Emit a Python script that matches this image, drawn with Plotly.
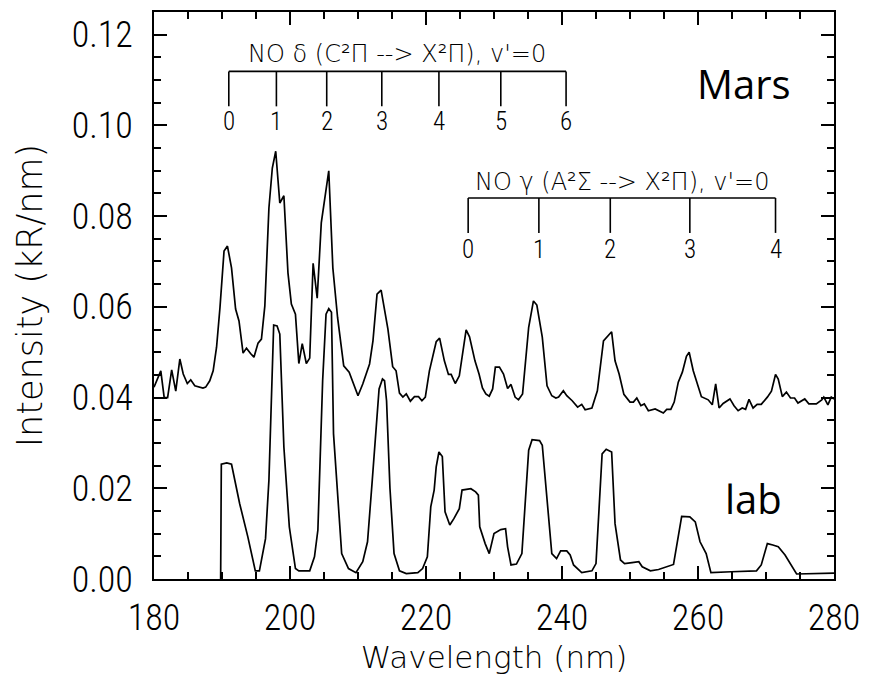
import plotly.graph_objects as go

# ---------------- data ----------------
mars_wl = [180.0, 181.0, 181.5, 182.0, 182.6, 183.2, 183.8, 184.3, 184.9, 185.4, 186.0, 186.6, 187.2, 187.6,
           188.2, 188.7, 189.2, 189.7, 190.3, 190.8, 191.4, 192.0, 192.5, 193.1, 193.6, 194.2, 194.7, 195.3,
           195.8, 196.3, 196.9, 197.4, 197.9, 198.5, 199.1, 199.7, 200.2, 200.8, 201.3, 201.8, 202.4, 202.9,
           203.4, 204.0, 204.6, 205.7, 206.3, 207.0, 207.9, 208.7, 210.0, 210.7, 211.7, 212.2, 212.8, 213.4,
           214.4, 215.1, 215.6, 216.1, 216.6, 217.1, 217.7, 218.3, 218.9, 219.4, 219.9, 220.5, 221.5, 222.0,
           222.7, 223.3, 223.7, 224.3, 224.9, 225.9, 226.4, 227.2, 227.8, 228.3, 228.8, 229.3, 229.8, 230.2,
           230.8, 231.4, 232.0, 232.5, 233.1, 233.6, 234.2, 235.1, 235.8, 236.3, 237.1, 237.8, 238.5, 239.1,
           239.5, 240.2, 240.7, 241.5, 242.3, 242.9, 243.4, 244.4, 245.2, 246.1, 247.3, 247.8, 248.4, 249.1,
           250.0, 250.5, 251.0, 251.6, 252.1, 252.7, 253.7, 254.9, 255.4, 256.0, 256.5, 257.1, 257.7, 258.3,
           258.7, 259.3, 260.5, 261.5, 262.1, 262.6, 263.1, 263.7, 264.7, 265.3, 265.9, 266.5, 267.0, 267.5,
           268.1, 268.7, 269.3, 270.2, 270.8, 271.4, 271.8, 272.4, 273.0, 273.6, 274.2, 274.7, 275.7, 276.3,
           277.4, 278.2, 278.5, 279.1, 279.6, 280.0]
mars_int = [0.0423, 0.0459, 0.0400, 0.0400, 0.0461, 0.0414, 0.0485, 0.0452, 0.0431, 0.0439, 0.0426, 0.0424, 0.0421, 0.0423,
            0.0437, 0.0459, 0.0511, 0.0598, 0.0723, 0.0734, 0.0686, 0.0595, 0.0569, 0.0498, 0.0509, 0.0497, 0.0489, 0.0520,
            0.0529, 0.0602, 0.0818, 0.0906, 0.0943, 0.0829, 0.0845, 0.0675, 0.0606, 0.0584, 0.0475, 0.0519, 0.0475, 0.0487,
            0.0696, 0.0619, 0.0785, 0.0900, 0.0686, 0.0576, 0.0470, 0.0456, 0.0404, 0.0430, 0.0474, 0.0525, 0.0628, 0.0637,
            0.0551, 0.0468, 0.0459, 0.0410, 0.0401, 0.0408, 0.0392, 0.0402, 0.0402, 0.0393, 0.0401, 0.0459, 0.0523, 0.0531,
            0.0481, 0.0451, 0.0451, 0.0431, 0.0448, 0.0549, 0.0534, 0.0481, 0.0452, 0.0421, 0.0408, 0.0403, 0.0419, 0.0467,
            0.0467, 0.0452, 0.0420, 0.0429, 0.0401, 0.0395, 0.0408, 0.0555, 0.0613, 0.0604, 0.0533, 0.0426, 0.0404, 0.0399,
            0.0401, 0.0415, 0.0404, 0.0393, 0.0379, 0.0385, 0.0373, 0.0377, 0.0415, 0.0525, 0.0545, 0.0481, 0.0452, 0.0407,
            0.0390, 0.0390, 0.0399, 0.0382, 0.0386, 0.0371, 0.0375, 0.0366, 0.0374, 0.0374, 0.0390, 0.0434, 0.0456, 0.0491,
            0.0500, 0.0459, 0.0402, 0.0395, 0.0384, 0.0430, 0.0377, 0.0387, 0.0397, 0.0382, 0.0371, 0.0377, 0.0374, 0.0396,
            0.0377, 0.0385, 0.0385, 0.0401, 0.0414, 0.0451, 0.0441, 0.0402, 0.0412, 0.0399, 0.0399, 0.0388, 0.0397, 0.0386,
            0.0386, 0.0395, 0.0401, 0.0384, 0.0401, 0.0397]

lab_wl = [189.8, 189.9, 190.7, 191.4, 192.6, 193.8, 194.9, 195.5, 196.4, 196.9, 197.6, 198.1, 198.5, 199.1,
          199.9, 200.8, 201.3, 202.9, 203.6, 204.1, 204.8, 205.3, 205.7, 206.1, 206.4, 207.6, 208.6, 209.7,
          210.7, 211.4, 212.1, 213.1, 213.6, 213.9, 214.2, 214.7, 215.3, 216.1, 217.1, 218.8, 219.5, 220.2,
          220.7, 221.2, 221.5, 221.9, 222.4, 222.8, 223.5, 224.1, 224.9, 225.3, 226.6, 227.3, 227.7, 227.9,
          228.7, 229.3, 230.0, 231.0, 231.7, 232.0, 232.5, 233.3, 234.1, 235.1, 235.6, 236.7, 237.1, 237.8,
          238.5, 239.2, 239.8, 240.7, 241.2, 241.7, 242.9, 244.4, 245.0, 245.9, 246.5, 247.3, 247.8, 248.6,
          249.2, 250.3, 251.3, 251.8, 253.0, 254.2, 256.4, 257.6, 258.8, 259.6, 260.3, 261.2, 261.9, 264.9,
          268.6, 269.3, 270.2, 271.0, 271.8, 272.8, 273.7, 274.5, 280.0]
lab_int = [0.0, 0.0253, 0.0256, 0.0253, 0.0166, 0.0093, 0.0018, 0.0018, 0.0089, 0.0218, 0.0560, 0.0558, 0.0540, 0.0291,
           0.0115, 0.0023, 0.0018, 0.0018, 0.0049, 0.0108, 0.0437, 0.0584, 0.0596, 0.0588, 0.0320, 0.0056, 0.0023, 0.0014,
           0.0038, 0.0082, 0.0218, 0.0419, 0.0441, 0.0437, 0.0393, 0.0200, 0.0056, 0.0018, 0.0012, 0.0014, 0.0023, 0.0049,
           0.0159, 0.0196, 0.0247, 0.0280, 0.0270, 0.0148, 0.0119, 0.0133, 0.0155, 0.0196, 0.0199, 0.0192, 0.0185, 0.0115,
           0.0078, 0.0056, 0.0100, 0.0109, 0.0111, 0.0071, 0.0031, 0.0033, 0.0056, 0.0284, 0.0307, 0.0305, 0.0295, 0.0174,
           0.0056, 0.0045, 0.0062, 0.0062, 0.0053, 0.0031, 0.0014, 0.0018, 0.0034, 0.0276, 0.0286, 0.0280, 0.0122, 0.0042,
           0.0034, 0.0036, 0.0038, 0.0027, 0.0018, 0.0021, 0.0032, 0.0138, 0.0137, 0.0126, 0.0082, 0.0056, 0.0014, 0.0016,
           0.0018, 0.0031, 0.0078, 0.0075, 0.0071, 0.0053, 0.0031, 0.0011, 0.0013]

# band-head positions (nm) for the two NO systems, v'=0 progressions
delta_bands = [191.0, 198.0, 205.4, 213.5, 221.9, 231.0, 240.6]
delta_labels = ["0", "1", "2", "3", "4", "5", "6"]
gamma_bands = [226.2, 236.6, 247.1, 258.8, 271.4]
gamma_labels = ["0", "1", "2", "3", "4"]

delta_title = "NO δ (C²Π --> X²Π), v'=0"
gamma_title = "NO γ (A²Σ --> X²Π), v'=0"

x_ticks = [180, 200, 220, 240, 260, 280]
y_ticks = [0.00, 0.02, 0.04, 0.06, 0.08, 0.10, 0.12]

# ---------------- figure ----------------
TICKFONT = dict(family="Roboto Condensed, DejaVu Sans Condensed, sans-serif", size=36, weight=300, color="black")
XTITLEFONT = dict(family="DejaVu Sans, sans-serif", size=31, weight=200, color="black")
YTITLEFONT = dict(family="DejaVu Sans, sans-serif", size=35, weight=200, color="black")
ANNFONT = dict(family="DejaVu Sans, sans-serif", size=24, weight=200, color="black")
DIGITFONT = dict(family="Roboto Condensed, sans-serif", size=25, weight=300, color="black")
LABELFONT = dict(family="Open Sans, Noto Sans, sans-serif", size=40, color="black")

fig = go.Figure()
fig.add_trace(go.Scatter(x=mars_wl, y=mars_int, mode="lines",
                         line=dict(color="black", width=1.7), name="Mars"))
fig.add_trace(go.Scatter(x=lab_wl, y=lab_int, mode="lines",
                         line=dict(color="black", width=1.7), name="lab"))


def bracket(bands, y_line, y_tick):
    xs = [bands[0], bands[-1], None]
    ys = [y_line, y_line, None]
    for b in bands:
        xs += [b, b, None]
        ys += [y_line, y_tick, None]
    return xs, ys


for bands, labels, title, y_line, y_tick, y_lab, y_title in [
    (delta_bands, delta_labels, delta_title, 0.1119, 0.1042, 0.1009, 0.1158),
    (gamma_bands, gamma_labels, gamma_title, 0.0840, 0.0763, 0.0727, 0.0876),
]:
    bx, by = bracket(bands, y_line, y_tick)
    fig.add_trace(go.Scatter(x=bx, y=by, mode="lines", line=dict(color="black", width=1.6),
                             hoverinfo="skip", showlegend=False))
    for b, lab in zip(bands, labels):
        fig.add_annotation(x=b, y=y_lab, text=lab, showarrow=False, font=DIGITFONT,
                           xanchor="center", yanchor="middle")
    fig.add_annotation(x=(bands[0] + bands[-1]) / 2, y=y_title, text=title, showarrow=False,
                       font=ANNFONT, xanchor="center", yanchor="middle")

fig.add_annotation(x=266.8, y=0.1092, text="Mars", showarrow=False, font=LABELFONT,
                   xanchor="center", yanchor="middle")
fig.add_annotation(x=268.2, y=0.0178, text="lab", showarrow=False, font=LABELFONT,
                   xanchor="center", yanchor="middle")

fig.update_layout(
    width=870, height=693,
    margin=dict(l=154, r=34, t=10, b=114),
    plot_bgcolor="white", paper_bgcolor="white",
    showlegend=False,
)
fig.update_xaxes(
    range=[180, 280], tickvals=x_ticks, ticktext=[str(v) for v in x_ticks],
    ticks="inside", ticklen=13, tickwidth=1.5, tickcolor="black",
    minor=dict(dtick=5, ticks="inside", ticklen=7, tickwidth=1.5, tickcolor="black"),
    showline=True, linecolor="black", linewidth=2, mirror="allticks",
    showgrid=False, zeroline=False, tickfont=TICKFONT, ticklabelstandoff=6,
    title=dict(text="Wavelength (nm)", font=XTITLEFONT, standoff=8),
)
fig.update_yaxes(
    range=[0, 0.125], tickvals=y_ticks, ticktext=["%.2f" % v for v in y_ticks],
    ticks="inside", ticklen=13, tickwidth=1.5, tickcolor="black",
    minor=dict(dtick=0.005, ticks="inside", ticklen=7, tickwidth=1.5, tickcolor="black"),
    showline=True, linecolor="black", linewidth=2, mirror="allticks",
    showgrid=False, zeroline=False, tickfont=TICKFONT, ticklabelstandoff=12,
    title=dict(text="Intensity (kR/nm)", font=YTITLEFONT, standoff=18),
)

fig.write_html("out.html")
